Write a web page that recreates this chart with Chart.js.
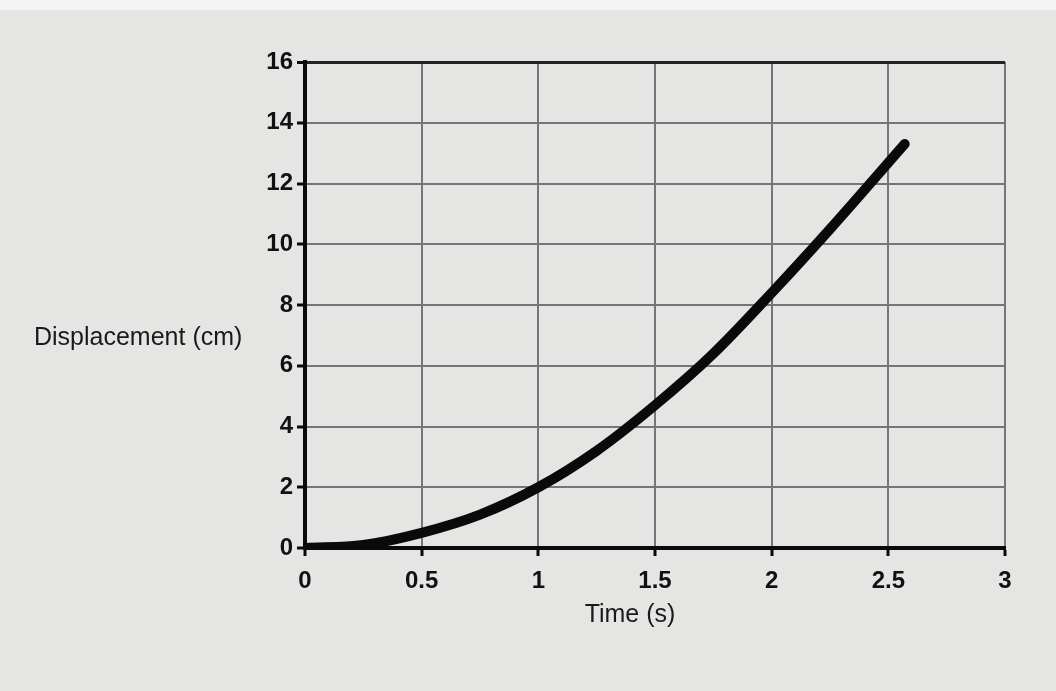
<!DOCTYPE html>
<html>
<head>
<meta charset="utf-8">
<script src="https://cdn.jsdelivr.net/npm/chart.js@4/dist/chart.umd.min.js"></script>
<style>
  html, body { margin: 0; padding: 0; background: #e6e6e6; }
  #wrap { position: relative; width: 1056px; height: 691px; background: #e5e5e3; }
  #topstrip { position: absolute; left: 0; top: 0; width: 1056px; height: 10px; background: #f4f4f4; }
  canvas { position: absolute; left: 0; top: 0; }
</style>
</head>
<body>
<div id="wrap">
  <div id="topstrip"></div>
  <canvas id="c" width="1056" height="691"></canvas>
</div>
<script>
const timeValues = [0, 0.25, 0.5, 0.75, 1, 1.25, 1.5, 1.75, 2, 2.25, 2.57];
const displacementValues = [0, 0.1, 0.5, 1.1, 2.0, 3.2, 4.7, 6.4, 8.4, 10.5, 13.3];
const xTickValues = [0, 0.5, 1, 1.5, 2, 2.5, 3];
const yTickValues = [0, 2, 4, 6, 8, 10, 12, 14, 16];
const xTitle = 'Time (s)';
const yTitle = 'Displacement (cm)';

const points = timeValues.map((t, i) => ({ x: t, y: displacementValues[i] }));

const labelPlugin = {
  id: 'labels',
  afterDraw(chart) {
    const ctx = chart.ctx;
    ctx.save();
    ctx.fillStyle = '#1a1a1a';
    ctx.font = '25px "Liberation Sans", Arial, sans-serif';
    ctx.textBaseline = 'middle';
    ctx.textAlign = 'left';
    ctx.fillText(yTitle, 34, 338);
    ctx.textAlign = 'center';
    ctx.fillText(xTitle, 630, 615);
    ctx.restore();
  }
};

new Chart(document.getElementById('c'), {
  type: 'line',
  data: {
    datasets: [{
      data: points,
      borderColor: '#0a0a0a',
      borderWidth: 10,
      pointRadius: 0,
      cubicInterpolationMode: 'monotone',
      fill: false,
      borderCapStyle: 'round'
    }]
  },
  options: {
    responsive: false,
    animation: false,
    layout: { padding: { left: 0, top: 62, right: 51, bottom: 0 } },
    plugins: { legend: { display: false }, tooltip: { enabled: false } },
    scales: {
      x: {
        type: 'linear',
        min: 0, max: 3,
        afterBuildTicks: s => { s.ticks = xTickValues.map(v => ({ value: v })); },
        afterFit: s => { s.height = 143; },
        border: { color: '#0a0a0a', width: 4 },
        grid: { color: '#72757c', lineWidth: 2, tickLength: 8, tickColor: '#0a0a0a', tickWidth: 3 },
        ticks: { color: '#111', padding: 11, callback: v => String(v), font: { family: '"Liberation Sans", Arial', size: 24, weight: 'bold' }, maxRotation: 0 }
      },
      y: {
        type: 'linear',
        min: 0, max: 16,
        afterBuildTicks: s => { s.ticks = yTickValues.map(v => ({ value: v })); },
        afterFit: s => { s.width = 305; },
        border: { color: '#0a0a0a', width: 4 },
        grid: { color: ctx => ctx.tick && ctx.tick.value === 16 ? '#222' : '#72757c', lineWidth: ctx => ctx.tick && ctx.tick.value === 16 ? 3 : 2, tickLength: 8, tickColor: '#0a0a0a', tickWidth: 3 },
        ticks: { color: '#111', padding: 4, callback: v => String(v), font: { family: '"Liberation Sans", Arial', size: 24, weight: 'bold' } }
      }
    }
  },
  plugins: [labelPlugin]
});
</script>
</body>
</html>
